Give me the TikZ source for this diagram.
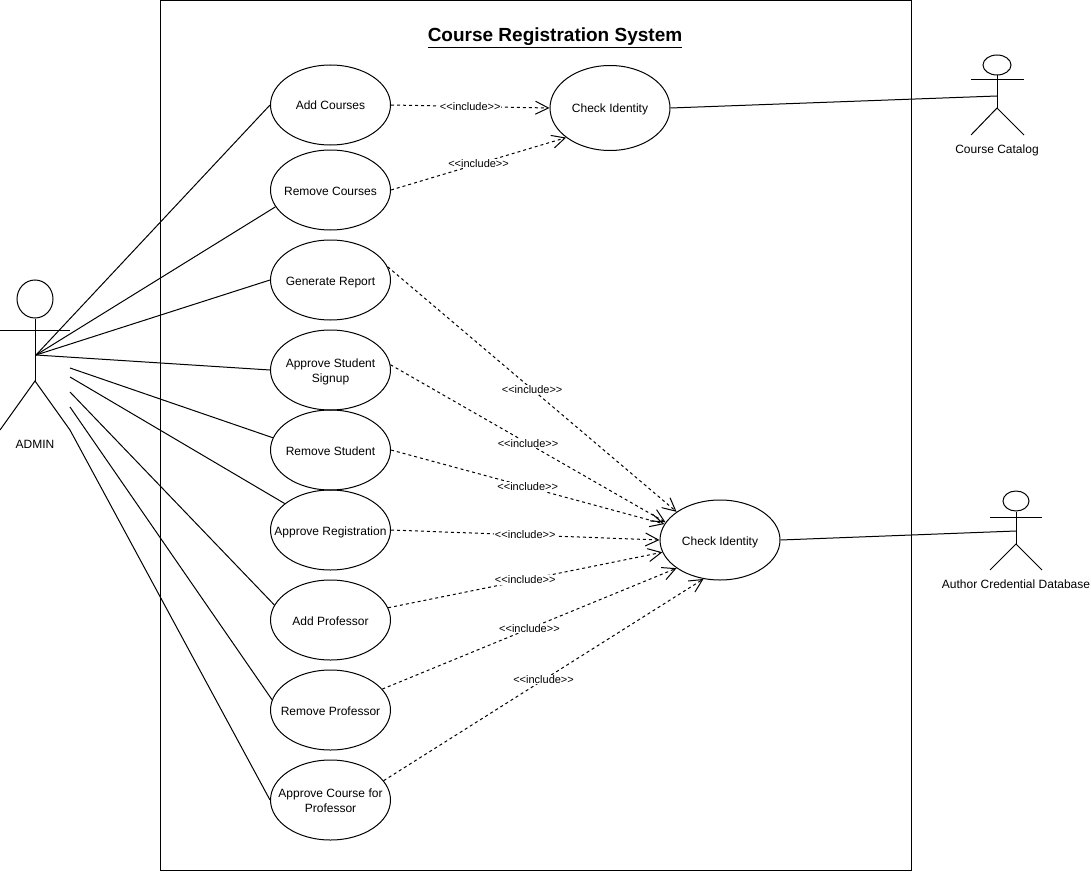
\documentclass[tikz,border=0pt]{standalone}
\usepackage{fontspec}
\setmainfont{Liberation Sans}
\usetikzlibrary{arrows.meta,shapes.geometric}
\newcommand{\ucline}[1]{\makebox[0pt]{\rule[-2.5pt]{0pt}{15pt}#1}}

\begin{document}
\begin{tikzpicture}[x=1pt,y=-1pt,line width=1pt,
  usecase/.style={draw,ellipse,inner sep=0pt,minimum width=120pt,minimum height=80pt,align=center,font=\fontsize{12}{15}\selectfont},
  actorhead/.style={draw,ellipse,inner sep=0pt},
  actorname/.style={font=\fontsize{12}{14}\selectfont},
  include/.style={dashed,dash pattern=on 3pt off 3pt,-{Straight Barb[length=13pt,width=13pt]}},
  inclabel/.style={fill=white,inner sep=0.5pt,font=\fontsize{11}{13}\selectfont},
]
  \useasboundingbox (0,0) rectangle (1091,872);
  \node[draw,minimum width=751pt,minimum height=869pt,inner sep=0pt] (system) at (535.5,435.5) {};
  \node[font=\fontsize{19}{23}\selectfont\bfseries] (title) at (555,38) {\underline{Course Registration System}};

  % use cases
  \node[usecase] (addc) at (330.5,105) {\ucline{Add Courses}};
  \node[usecase] (remc) at (330.5,190) {\ucline{Remove Courses}};
  \node[usecase] (genr) at (330.5,280) {\ucline{Generate Report}};
  \node[usecase] (apps) at (330.5,370) {\ucline{Approve Student}\\\ucline{Signup}};
  \node[usecase] (rems) at (330.5,450) {\ucline{Remove Student}};
  \node[usecase] (appr) at (330.5,530) {\ucline{Approve Registration}};
  \node[usecase] (addp) at (330.5,620) {\ucline{Add Professor}};
  \node[usecase] (remp) at (330.5,710) {\ucline{Remove Professor}};
  \node[usecase] (appc) at (330.5,800) {\ucline{Approve Course for}\\\ucline{Professor}};
  \node[usecase,minimum height=85pt] (chk1) at (610,108) {\ucline{Check Identity}};
  \node[usecase] (chk2) at (720,540) {\ucline{Check Identity}};

  % admin
  \node[actorhead,minimum width=36pt,minimum height=38pt] (admin) at (35,299) {};
  \coordinate (adminhip) at (35,381);
  \coordinate (adminhub) at (36,355);
  \coordinate (adminleg) at (70,430);
  \coordinate (adminlegl) at (0,430);
  \coordinate (armA) at (0,330);
  \coordinate (armB) at (70,330);
  \draw (admin.south) -- (adminhip);
  \draw (armA) -- (armB);
  \draw (adminlegl) -- (adminhip) -- (adminleg);
  \node[actorname] (adminname) at (35,444) {ADMIN};

  % course catalog
  \node[actorhead,minimum width=28pt,minimum height=20pt] (cat) at (997,65) {};
  \coordinate (cathip) at (997,108);
  \coordinate (cathub) at (997,96);
  \coordinate (catA) at (971,80);
  \coordinate (catB) at (1024,80);
  \coordinate (catlegl) at (971,135);
  \coordinate (catlegr) at (1024,135);
  \draw (cat.south) -- (cathip);
  \draw (catA) -- (catB);
  \draw (catlegl) -- (cathip) -- (catlegr);
  \node[actorname] (catname) at (997,150) {Course Catalog};

  % credential database
  \node[actorhead,minimum width=26pt,minimum height=20pt] (db) at (1016,501) {};
  \coordinate (dbhip) at (1016,544);
  \coordinate (dbhub) at (1016,531);
  \coordinate (dbA) at (990,517);
  \coordinate (dbB) at (1042,517);
  \coordinate (dblegl) at (990,570);
  \coordinate (dblegr) at (1042,570);
  \draw (db.south) -- (dbhip);
  \draw (dbA) -- (dbB);
  \draw (dblegl) -- (dbhip) -- (dblegr);
  \node[actorname] (dbname) at (1016,584) {Author Credential Database};

  % admin links
  \coordinate (linkA) at (70,368);
  \coordinate (linkB) at (70,377);
  \coordinate (linkC) at (70,392);
  \coordinate (linkD) at (70,407);
  \draw (adminhub) -- (addc.180);
  \draw (adminhub) -- (remc.197);
  \draw (adminhub) -- (genr.180);
  \draw (adminhub) -- (apps.180);
  \draw (linkA) -- (rems.168);
  \draw (linkB) -- (appr.150);
  \draw (linkC) -- (addp.165);
  \draw (linkD) -- (remp.170);
  \draw (adminleg) -- (appc.180);
  \draw (chk1.east) -- (cathub);
  \draw (chk2.east) -- (dbhub);

  % include links
  \draw[include] (addc.east) -- node[inclabel] {<{}<include>{}>} (chk1.west);
  \draw[include] (remc.east) -- node[inclabel] {<{}<include>{}>} (chk1.214);
  \draw[include] (genr.13) -- node[inclabel] {<{}<include>{}>} (chk2.147);
  \draw[include] (apps.5) -- node[inclabel] {<{}<include>{}>} (chk2.162);
  \draw[include] (rems.east) -- node[inclabel] {<{}<include>{}>} (chk2.164);
  \draw[include] (appr.east) -- node[inclabel] {<{}<include>{}>} (chk2.west);
  \draw[include] (addp.12) -- node[inclabel] {<{}<include>{}>} (chk2.192);
  \draw[include] (remp.22) -- node[inclabel] {<{}<include>{}>} (chk2.213);
  \draw[include] (appc.20) -- node[inclabel] {<{}<include>{}>} (chk2.247);
\end{tikzpicture}
\end{document}
